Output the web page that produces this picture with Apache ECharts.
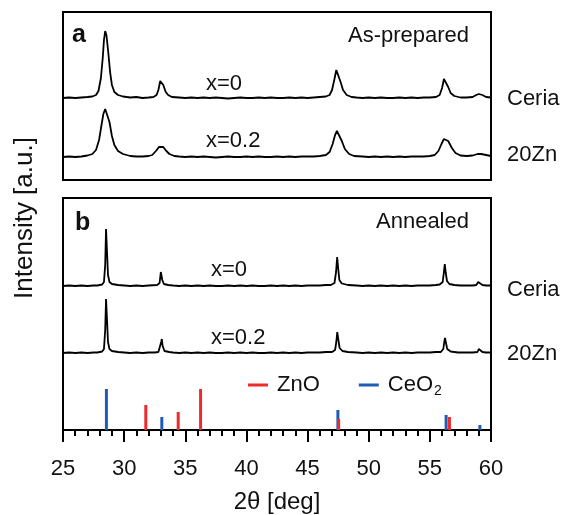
<!DOCTYPE html>
<html>
<head>
<meta charset="utf-8"/>
<title>XRD Ceria / 20Zn</title>
<script src="https://cdn.jsdelivr.net/npm/echarts@6/dist/echarts.min.js"></script>
<style>
  html, body { margin: 0; padding: 0; background: #fff; }
  #main { width: 563px; height: 515px; }
</style>
</head>
<body>
<div id="main"></div>
<script type="text/javascript">
    // 2theta [deg] vs intensity (offset stacked as in the figure, arbitrary units)
    // panel a: as-prepared
    var ceriaA = [[25,82],[25.5,82.5],[26,82],[26.5,82.5],[27,83],[27.4,83.5],[27.7,85],[27.9,89],[28.1,102],[28.25,122],[28.35,140],[28.45,149],[28.55,145],[28.7,128],[28.85,108],[29.0,95],[29.2,88],[29.5,85],[29.9,83.5],[30.5,82.5],[31,83],[31.5,82],[32,82.5],[32.4,83],[32.65,85],[32.8,90],[32.95,99],[33.05,100],[33.2,95],[33.4,88],[33.6,85],[33.9,83],[34.5,82.5],[35,82],[35.5,82.5],[36,82],[36.5,82.5],[37,82],[37.5,82.5],[38,82],[38.5,81.5],[39,82],[39.5,82.5],[40,82],[40.5,82],[41,82.5],[41.5,82],[42,82.5],[42.5,82],[43,82],[43.5,82.5],[44,82],[44.5,82.5],[45,82],[45.5,82.5],[46,83],[46.5,83.5],[46.8,85],[47.0,90],[47.2,101],[47.35,110],[47.5,108],[47.7,98],[47.9,90],[48.2,85],[48.6,83],[49,82.5],[49.5,82],[50,82.5],[50.5,82],[51,82.5],[51.5,82],[52,82],[52.5,82.5],[53,82],[53.5,82.5],[54,82],[54.5,82.5],[55,82.5],[55.5,83],[55.8,85],[56.0,92],[56.15,101],[56.3,100],[56.5,93],[56.7,87],[57.0,84],[57.5,82.5],[58,82.5],[58.5,83],[58.8,85],[59.0,86],[59.3,85],[59.6,83],[60,82.5]];
    var zn20A = [[25,23],[25.5,23.5],[26,23],[26.5,23.5],[27,24.5],[27.4,26],[27.7,30],[27.95,40],[28.15,55],[28.3,66],[28.45,71],[28.6,69],[28.8,58],[29.0,44],[29.2,35],[29.5,29],[29.9,26],[30.5,24],[31,23.5],[31.5,23.5],[32,24],[32.3,25],[32.6,29],[32.85,33],[33.0,35],[33.2,33],[33.45,29],[33.7,26],[34.1,24],[34.5,23.5],[35,23],[35.5,23.5],[36,23],[36.5,23.5],[37,23],[37.5,22.5],[38,23],[38.5,23.5],[39,23],[39.5,23],[40,23.5],[40.5,23],[41,23.5],[41.5,23],[42,23],[42.5,23.5],[43,23],[43.5,23.5],[44,23],[44.5,23.5],[45,23.5],[45.5,23.5],[46,24],[46.5,25],[46.8,28],[47.05,36],[47.25,45],[47.4,49],[47.55,47],[47.8,39],[48.05,31],[48.4,26],[48.8,24],[49.5,23.5],[50,23],[50.5,23.5],[51,23],[51.5,23.5],[52,23],[52.5,23.5],[53,23],[53.5,23.5],[54,23.5],[54.5,23.5],[55,24],[55.4,25],[55.7,29],[55.95,36],[56.15,41],[56.3,42],[56.5,39],[56.8,32],[57.1,27],[57.5,24.5],[58,24],[58.5,24.5],[58.9,26],[59.2,26],[59.6,25],[60,24]];
    // panel b: annealed
    var ceriaB = [[25,144],[25.5,144.5],[26,144],[26.5,144.5],[27,144],[27.5,144.5],[27.8,144.5],[28.2,145.5],[28.35,148],[28.45,165],[28.52,201],[28.6,178],[28.68,155],[28.8,148],[29.0,146],[29.5,145],[30,144.5],[30.5,144],[31,144.5],[31.5,144],[32,144.5],[32.7,145],[32.9,147],[33.0,158],[33.05,159],[33.12,150],[33.25,146],[33.6,145],[34,144.5],[34.5,144],[35,144.5],[35.5,144],[36,144.5],[36.5,144],[37,144.5],[37.5,144],[38,144],[38.5,144.5],[39,144],[39.5,144.5],[40,144],[40.5,144.5],[41,144],[41.5,144],[42,144.5],[42.5,144],[43,144.5],[43.5,144],[44,144.5],[44.5,144],[45,144.5],[45.5,144.5],[46,144.5],[46.5,145],[46.9,145],[47.2,147],[47.33,158],[47.42,173],[47.5,162],[47.6,150],[47.8,146.5],[48.3,145],[49,144.5],[49.5,144],[50,144.5],[50.5,144],[51,144.5],[51.5,144],[52,144.5],[52.5,144],[53,144.5],[53.5,144],[54,144.5],[54.5,144.5],[55,144.5],[55.5,145],[55.8,145.5],[56.05,148],[56.15,158],[56.22,166],[56.3,157],[56.4,149],[56.6,146],[57,145],[57.5,144.5],[58,144.5],[58.5,144.5],[58.8,145],[58.95,148],[59.05,147],[59.3,145],[59.6,144.5],[60,144.5]];
    var zn20B = [[25,77],[25.5,77.5],[26,77],[26.5,77.5],[27,77],[27.5,77.5],[27.8,77.5],[28.2,78.5],[28.35,81],[28.45,100],[28.52,131],[28.6,110],[28.68,88],[28.8,81],[29.0,79],[29.5,78],[30,77.5],[30.5,77],[31,77.5],[31.5,77],[32,77.5],[32.5,77.5],[32.8,78],[32.95,80],[33.03,88],[33.08,91],[33.15,84],[33.3,79],[33.7,78],[34,77.5],[34.5,77],[35,77.5],[35.5,77],[36,77.5],[36.5,77],[37,77.5],[37.5,77],[38,77],[38.5,77.5],[39,77],[39.5,77.5],[40,77],[40.5,77.5],[41,77],[41.5,77],[42,77.5],[42.5,77],[43,77.5],[43.5,77],[44,77.5],[44.5,77],[45,77.5],[45.5,77.5],[46,77.5],[46.5,78],[47.0,78],[47.25,80],[47.35,88],[47.43,98],[47.52,90],[47.62,82],[47.85,79],[48.3,78],[49,77.5],[49.5,77],[50,77.5],[50.5,77],[51,77.5],[51.5,77],[52,77.5],[52.5,77],[53,77.5],[53.5,77],[54,77.5],[54.5,77.5],[55,77.5],[55.5,78],[55.9,78],[56.1,81],[56.18,88],[56.24,92],[56.32,87],[56.42,81],[56.7,78.5],[57.3,77.5],[58,77.5],[58.5,77.5],[58.9,78],[59.0,81],[59.1,80],[59.3,78],[59.6,77.5],[60,77.5]];

    // reference patterns (stick heights)
    var ceo2Ref = [[28.55,41],[33.08,13],[47.48,20],[56.33,15],[59.09,5]];
    var znoRef = [[31.77,25],[34.42,18],[36.25,41],[47.54,11],[56.6,13]];

    var xTicks = [25, 30, 35, 40, 45, 50, 55, 60];

    var FONT = 'Liberation Sans';

    function label(text, x, y, size, bold) {
        return {
            type: 'text',
            x: x,
            y: y,
            style: {
                text: text,
                fill: '#111',
                font: (bold ? 'bold ' : '') + size + 'px "' + FONT + '"',
                align: 'left',
                verticalAlign: 'middle'
            }
        };
    }

    var option = {
        animation: false,
        backgroundColor: '#fff',
        grid: [
            {left: 63, top: 12, width: 428, height: 168, show: true, borderColor: '#000', borderWidth: 2, backgroundColor: 'transparent'},
            {left: 63, top: 198, width: 428, height: 232, show: true, borderColor: '#000', borderWidth: 2, backgroundColor: 'transparent'}
        ],
        xAxis: [
            {
                gridIndex: 0, type: 'value', min: 25, max: 60,
                axisLine: {show: false}, axisTick: {show: false},
                axisLabel: {show: false}, splitLine: {show: false}
            },
            {
                gridIndex: 1, type: 'value', min: 25, max: 60, interval: 5,
                name: '2θ [deg]', nameLocation: 'middle', nameGap: 60,
                nameTextStyle: {fontFamily: FONT, fontSize: 24, color: '#111'},
                axisLine: {show: true, lineStyle: {color: '#000', width: 2}},
                axisTick: {show: true, inside: false, length: 12, lineStyle: {color: '#000', width: 2}},
                minorTick: {show: true, splitNumber: 5, length: 6, lineStyle: {color: '#000', width: 2}},
                axisLabel: {
                    fontFamily: FONT, fontSize: 22, color: '#111', margin: 28,
                    formatter: function (v) { return xTicks.indexOf(v) >= 0 ? String(v) : ''; }
                },
                splitLine: {show: false}
            }
        ],
        yAxis: [
            {gridIndex: 0, type: 'value', min: 0, max: 168, show: false},
            {gridIndex: 1, type: 'value', min: 0, max: 232, show: false}
        ],
        legend: {
            left: 243, top: 369,
            data: ['ZnO', 'CeO2'],
            icon: 'rect',
            itemWidth: 20,
            itemHeight: 3,
            itemGap: 39,
            selectedMode: false,
            formatter: function (name) {
                return name === 'CeO2' ? '{t|CeO}{s|2}' : '{t|ZnO}';
            },
            textStyle: {
                color: '#111',
                fontFamily: FONT,
                rich: {
                    t: {fontFamily: FONT, fontSize: 22, color: '#111', padding: [0, 0, 0, 4]},
                    s: {fontFamily: FONT, fontSize: 14, color: '#111', padding: [12, 0, 0, 1]}
                }
            }
        },
        graphic: [
            label('a', 72, 35, 25, true),
            label('b', 75, 223, 25, true),
            label('As-prepared', 348, 36, 22),
            label('Annealed', 376, 222, 22),
            label('x=0', 206, 84, 22),
            label('x=0.2', 206, 141, 22),
            label('x=0', 211, 270, 22),
            label('x=0.2', 211, 338, 22),
            label('Ceria', 507, 99, 22),
            label('20Zn', 507, 155, 22),
            label('Ceria', 507, 290, 22),
            label('20Zn', 507, 354, 22),
            {
                type: 'text',
                x: 25, y: 218,
                rotation: Math.PI / 2,
                style: {
                    text: 'Intensity [a.u.]',
                    fill: '#111',
                    font: '26px "' + FONT + '"',
                    align: 'center',
                    verticalAlign: 'middle'
                }
            }
        ],
        series: [
            {name: 'Ceria a', type: 'line', xAxisIndex: 0, yAxisIndex: 0, data: ceriaA, showSymbol: false, symbol: 'none', lineStyle: {color: '#000', width: 1.8}},
            {name: '20Zn a', type: 'line', xAxisIndex: 0, yAxisIndex: 0, data: zn20A, showSymbol: false, symbol: 'none', lineStyle: {color: '#000', width: 1.8}},
            {name: 'Ceria b', type: 'line', xAxisIndex: 1, yAxisIndex: 1, data: ceriaB, showSymbol: false, symbol: 'none', lineStyle: {color: '#000', width: 1.8}},
            {name: '20Zn b', type: 'line', xAxisIndex: 1, yAxisIndex: 1, data: zn20B, showSymbol: false, symbol: 'none', lineStyle: {color: '#000', width: 1.8}},
            {name: 'CeO2', type: 'bar', xAxisIndex: 1, yAxisIndex: 1, data: ceo2Ref, barWidth: 3, barGap: '-100%', itemStyle: {color: '#1f5cb5'}},
            {name: 'ZnO', type: 'bar', xAxisIndex: 1, yAxisIndex: 1, data: znoRef, barWidth: 3, barGap: '-100%', itemStyle: {color: '#ee2b2b'}}
        ]
    };

    var chart = echarts.init(document.getElementById('main'));
    chart.setOption(option);
</script>
</body>
</html>
